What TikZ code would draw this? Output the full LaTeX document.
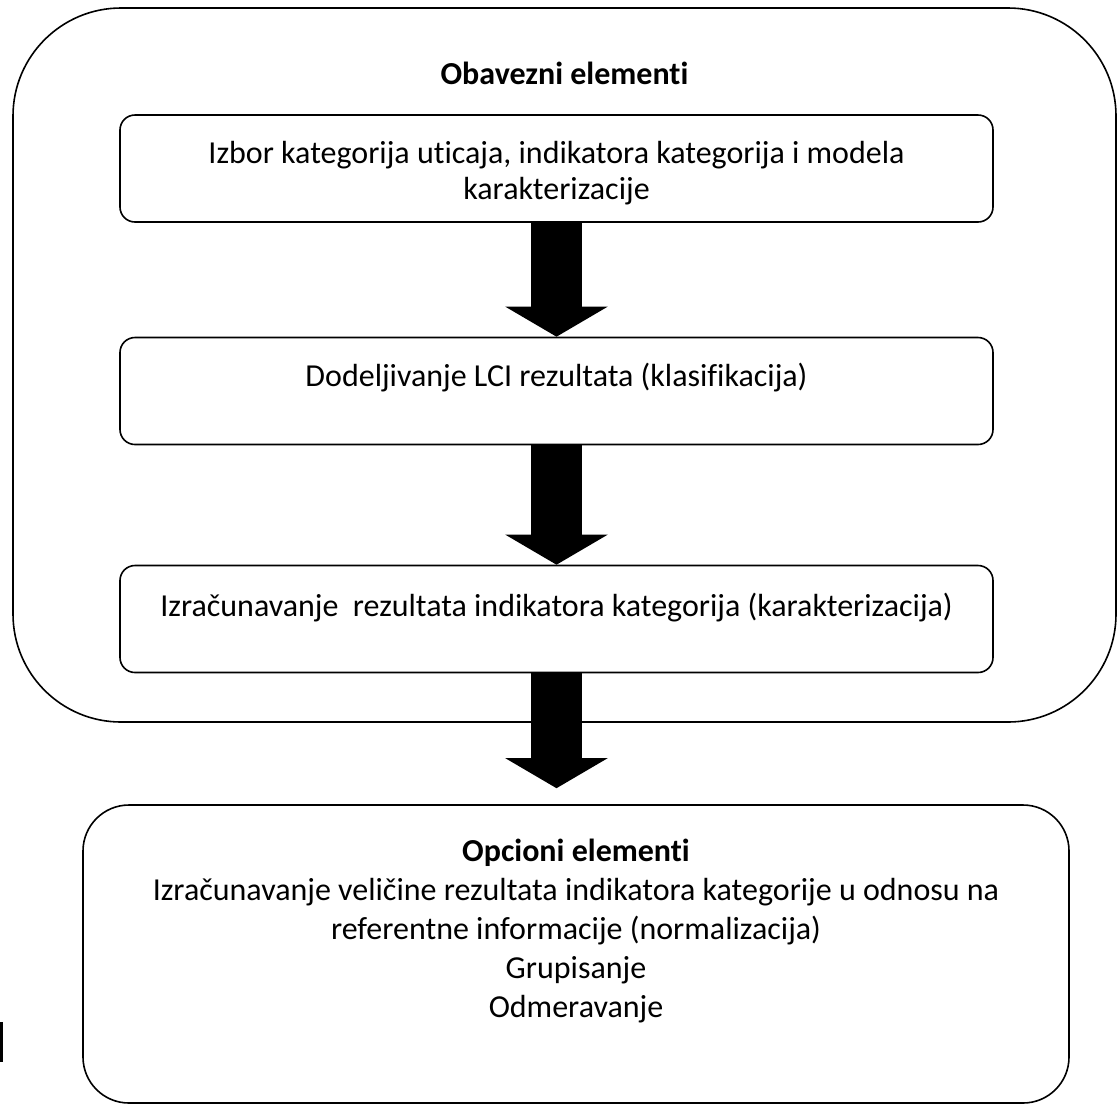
\documentclass[tikz,border=0pt]{standalone}
\usepackage{fontspec}
\setmainfont{Carlito}[Ligatures=NoCommon]
\usetikzlibrary{arrows.meta,positioning}

\begin{document}
\begin{tikzpicture}[
  x=1pt, y=-1pt,
  frame/.style={draw, line width=1.6pt, rounded corners=#1, inner sep=0pt},
  stepbox/.style={frame=15pt, minimum width=873pt, minimum height=107pt},
  txt/.style={align=center, inner sep=0pt, anchor=north, font=\fontsize{32}{36}\selectfont},
  title/.style={txt, font=\fontsize{32}{36}\selectfont\bfseries},
  fat/.style={line width=51pt, -{Triangle[length=30pt, width=101pt]}}
]
\useasboundingbox (0,0) rectangle (1118,1104);

\node[frame=108pt, minimum width=1103pt, minimum height=714pt] (obavezni) at (564.5,365) {};
\node[title, below=55pt of obavezni.north] (obaveznitxt) {Obavezni elementi};

\node[stepbox] (izbor) at (556.5,168.5) {};
\node[stepbox] (dodela) at (556.5,391) {};
\node[stepbox] (racun) at (556.5,619) {};
\node[frame=46pt, minimum width=986pt, minimum height=298pt] (opcioni) at (576,954) {};

\node[txt, below=27pt of izbor.north] (izbortxt) {Izbor kategorija uticaja, indikatora kategorija i modela\\karakterizacije};
\node[txt, below=26pt of dodela.north] (dodelatxt) {Dodeljivanje LCI rezultata (klasifikacija)};
\node[txt, below=28pt of racun.north] (racuntxt) {Izračunavanje~ rezultata indikatora kategorija (karakterizacija)};
\node[txt, font=\fontsize{32}{39}\selectfont, below=35pt of opcioni.north] (opcionitxt)
  {{\bfseries Opcioni elementi}\\Izračunavanje veličine rezultata indikatora kategorije u odnosu na\\referentne informacije (normalizacija)\\Grupisanje\\Odmeravanje};

\draw[fat] (izbor.south) -- (dodela.north);
\draw[fat] (dodela.south) -- (racun.north);
\draw[fat, shorten >=16pt] (racun.south) -- (racun.south |- opcioni.north);

\fill (0,1022) rectangle (3,1062);
\end{tikzpicture}
\end{document}
